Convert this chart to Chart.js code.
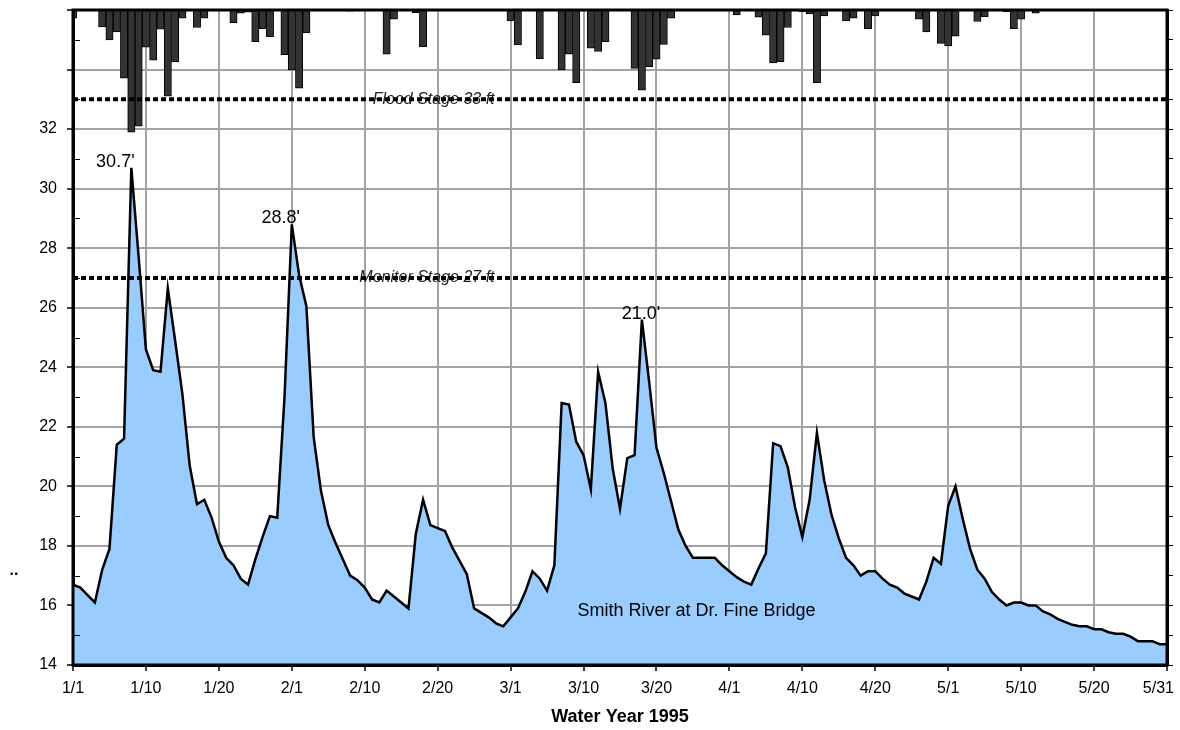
<!DOCTYPE html>
<html>
<head>
<meta charset="utf-8">
<script src="https://cdn.jsdelivr.net/npm/chart.js@4.4.0/dist/chart.umd.min.js"></script>
<style>
  html, body { margin: 0; padding: 0; background: #fff; }
</style>
</head>
<body>
<canvas id="stageChart" width="1180" height="730"></canvas>
<script>
// Daily river stage (ft), 1/1 through 5/31
const stage = [
  16.7, 16.6, 16.35, 16.1, 17.2, 17.9, 21.4, 21.6, 30.7, 27.7,
  24.6, 23.9, 23.85, 26.65, 24.9, 23.1, 20.7, 19.4, 19.55, 18.95,
  18.15, 17.6, 17.35, 16.9, 16.7, 17.55, 18.3, 19.0, 18.95, 23.0,
  28.8, 27.1, 26.05, 21.65, 19.85, 18.7, 18.1, 17.55, 17.0, 16.85,
  16.6, 16.2, 16.1, 16.5, 16.3, 16.1, 15.9, 18.4, 19.55, 18.7,
  18.6, 18.5, 17.95, 17.5, 17.05, 15.9, 15.75, 15.6, 15.4, 15.3,
  15.6, 15.9, 16.45, 17.15, 16.9, 16.5, 17.35, 22.8, 22.75, 21.5,
  21.05, 19.9, 23.85, 22.8, 20.6, 19.25, 20.95, 21.05, 25.6, 23.5,
  21.3, 20.45, 19.5, 18.55, 18.0, 17.6, 17.6, 17.6, 17.6, 17.35,
  17.15, 16.95, 16.8, 16.7, 17.25, 17.75, 21.45, 21.35, 20.65, 19.3,
  18.3, 19.55, 21.8, 20.2, 19.05, 18.25, 17.6, 17.35, 17.0, 17.15,
  17.15, 16.9, 16.7, 16.6, 16.4, 16.3, 16.2, 16.8, 17.6, 17.4,
  19.35, 20.0, 18.9, 17.9, 17.2, 16.9, 16.45, 16.2, 16.0, 16.1,
  16.1, 16.0, 16.0, 15.8, 15.7, 15.55, 15.45, 15.35, 15.3, 15.3,
  15.2, 15.2, 15.1, 15.05, 15.05, 14.95, 14.8, 14.8, 14.8, 14.7,
  14.7
];

// Daily rainfall (in), hung from the top of the plot
const rain = [
  0.15, 0, 0, 0, 0.31, 0.55, 0.40, 1.25, 2.24, 2.13,
  0.68, 0.92, 0.35, 1.58, 0.95, 0.15, 0, 0.32, 0.15, 0,
  0, 0, 0.23, 0.06, 0.04, 0.58, 0.34, 0.49, 0, 0.82,
  1.10, 1.43, 0.42, 0, 0, 0, 0, 0, 0.02, 0,
  0, 0, 0, 0.81, 0.17, 0, 0, 0.05, 0.67, 0,
  0, 0, 0, 0, 0, 0, 0, 0, 0, 0,
  0.20, 0.64, 0, 0, 0.89, 0, 0, 1.10, 0.81, 1.33,
  0, 0.70, 0.76, 0.58, 0, 0, 0, 1.07, 1.47, 1.04,
  0.90, 0.63, 0.15, 0, 0, 0, 0, 0, 0, 0,
  0, 0.09, 0, 0, 0.13, 0.46, 0.97, 0.95, 0.32, 0,
  0.03, 0.07, 1.33, 0.11, 0, 0, 0.20, 0.15, 0, 0.34,
  0.11, 0, 0, 0, 0, 0, 0.17, 0.40, 0, 0.61,
  0.66, 0.48, 0, 0, 0.21, 0.12, 0, 0, 0.03, 0.34,
  0.17, 0, 0.06, 0, 0, 0, 0, 0, 0, 0,
  0, 0, 0, 0, 0, 0, 0, 0, 0, 0,
  0
];

const tickLabels = ["1/1", "1/10", "1/20", "2/1", "2/10", "2/20", "3/1", "3/10",
  "3/20", "4/1", "4/10", "4/20", "5/1", "5/10", "5/20", "5/31"];

const floodStage = 33;
const monitorStage = 27;

const peakDays = [8, 30, 78];
const peakLabels = ["30.7'", "28.8'", "21.0'"];

const days = stage.map((v, i) => i);
const FONT = '"Liberation Sans", Arial, sans-serif';

Chart.defaults.font.family = FONT;
Chart.defaults.font.size = 16;
Chart.defaults.color = '#000';

// captions under the dotted stage lines, then frame / minor ticks / notes on top
const extras = {
  id: 'extras',
  beforeDatasetsDraw(chart) {
    const { ctx, scales: { x, y } } = chart;
    ctx.save();
    ctx.font = 'italic 16px ' + FONT;
    ctx.fillStyle = '#222';
    ctx.textAlign = 'right';
    ctx.textBaseline = 'middle';
    const right = x.getPixelForValue(57.8);
    ctx.fillText('Flood Stage ' + floodStage + ' ft', right, y.getPixelForValue(floodStage));
    ctx.fillText('Monitor Stage ' + monitorStage + ' ft', right, y.getPixelForValue(monitorStage));
    ctx.restore();
  },
  afterDatasetsDraw(chart) {
    const { ctx, chartArea: a, scales: { x, y } } = chart;
    ctx.save();

    // plot frame
    ctx.strokeStyle = '#000';
    ctx.lineWidth = 3;
    ctx.strokeRect(a.left, a.top, a.right - a.left, a.bottom - a.top);

    // minor ticks inside the left axis
    ctx.lineWidth = 1;
    ctx.beginPath();
    for (let v = 15; v < 36; v += 2) {
      const py = Math.round(y.getPixelForValue(v)) + 0.5;
      ctx.moveTo(a.left, py);
      ctx.lineTo(a.left + 7, py);
    }
    ctx.stroke();

    // peak notes
    const dx = [-16, -11, -1];
    ctx.font = '18px ' + FONT;
    ctx.fillStyle = '#000';
    ctx.textAlign = 'center';
    ctx.textBaseline = 'alphabetic';
    peakDays.forEach((d, i) => {
      ctx.fillText(peakLabels[i], x.getPixelForValue(d) + dx[i], y.getPixelForValue(stage[d]) - 1);
    });

    // series name inside the area
    ctx.textBaseline = 'middle';
    ctx.fillText('Smith River at Dr. Fine Bridge', x.getPixelForValue(85.5), y.getPixelForValue(15.8));

    // last date label, kept inside the canvas
    ctx.font = '16px ' + FONT;
    ctx.textAlign = 'right';
    ctx.fillText(tickLabels[15], x.getPixelForValue(150) + 7, a.bottom + 24);

    // cut-off axis title
    ctx.font = 'bold 16px ' + FONT;
    ctx.textAlign = 'center';
    ctx.fillText('..', 14, 571);

    ctx.restore();
  }
};

new Chart(document.getElementById('stageChart'), {
  type: 'line',
  data: {
    labels: days,
    datasets: [
      {
        label: 'Flood Stage',
        data: days.map(() => floodStage),
        borderColor: '#000',
        borderWidth: 4,
        borderDash: [5, 3],
        borderCapStyle: 'butt',
        pointRadius: 0,
        fill: false,
        yAxisID: 'y',
        order: 0
      },
      {
        label: 'Monitor Stage',
        data: days.map(() => monitorStage),
        borderColor: '#000',
        borderWidth: 4,
        borderDash: [5, 3],
        borderCapStyle: 'butt',
        pointRadius: 0,
        fill: false,
        yAxisID: 'y',
        order: 0
      },
      {
        label: 'Smith River at Dr. Fine Bridge',
        data: stage,
        borderColor: '#000',
        borderWidth: 2.5,
        backgroundColor: '#99ccff',
        fill: 'start',
        tension: 0,
        pointRadius: 0,
        yAxisID: 'y',
        order: 1
      },
      {
        type: 'bar',
        label: 'Rainfall',
        data: rain,
        backgroundColor: '#333333',
        borderColor: '#000',
        borderWidth: 1,
        barPercentage: 1,
        categoryPercentage: 1,
        yAxisID: 'y2',
        clip: 0,
        order: 2
      }
    ]
  },
  options: {
    responsive: false,
    animation: false,
    devicePixelRatio: 1,
    layout: { padding: { top: 10, left: 0, right: 0, bottom: 0 } },
    plugins: {
      legend: { display: false },
      tooltip: { enabled: false }
    },
    scales: {
      x: {
        type: 'linear',
        min: 0,
        max: 150,
        offset: false,
        grid: { offset: false, color: '#a3a3a3', lineWidth: 2, tickLength: 6, tickColor: '#000', tickWidth: 1.5 },
        border: { color: '#000', width: 3 },
        ticks: {
          stepSize: 10,
          autoSkip: false,
          maxRotation: 0,
          padding: 8,
          callback: (v) => (v === 150 ? '' : tickLabels[v / 10])
        },
        title: {
          display: true,
          text: 'Water Year 1995',
          font: { size: 18, weight: 'bold' },
          padding: { top: 0, bottom: 2 }
        },
        afterFit(s) { s.height = 65; s.paddingLeft = 0; s.paddingRight = 0; }
      },
      y: {
        position: 'left',
        min: 14,
        max: 36,
        grid: { color: '#a3a3a3', lineWidth: 2, tickLength: 6, tickColor: '#000', tickWidth: 1.5 },
        border: { color: '#000', width: 3 },
        ticks: { stepSize: 2, padding: 10, callback: (v) => (v <= 32 ? v : '') },
        afterFit(s) { s.width = 73; s.paddingTop = 0; s.paddingBottom = 0; }
      },
      yR: {
        position: 'right',
        min: 14,
        max: 36,
        grid: { drawOnChartArea: false, tickLength: 6, color: '#000', tickWidth: 1 },
        border: { color: '#000', width: 3 },
        ticks: { stepSize: 1, display: false },
        afterFit(s) { s.width = 13; s.paddingTop = 0; s.paddingBottom = 0; }
      },
      y2: {
        display: false,
        reverse: true,
        min: 0,
        max: 12
      }
    }
  },
  plugins: [extras]
});
</script>
</body>
</html>
